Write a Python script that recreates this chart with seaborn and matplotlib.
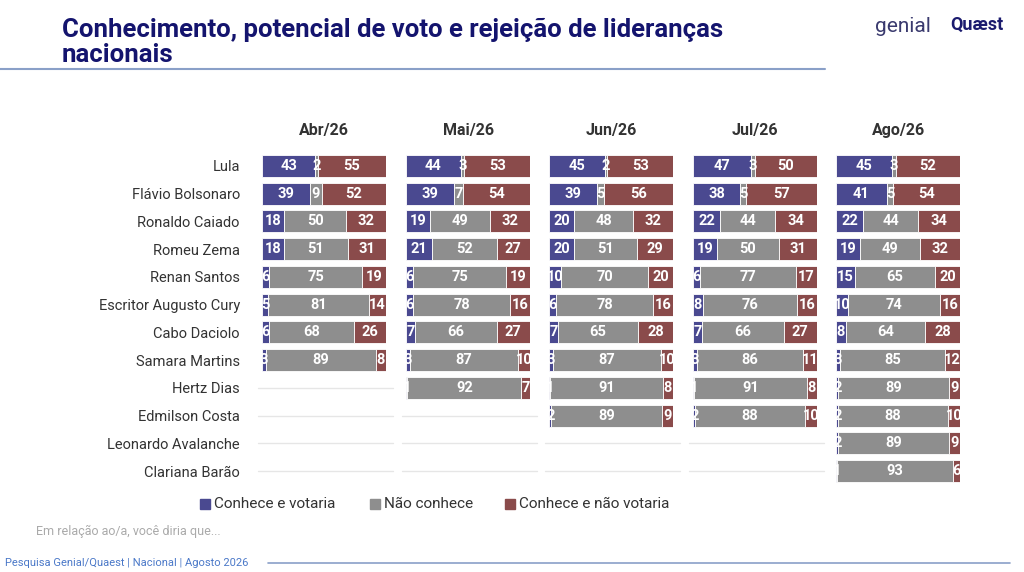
import matplotlib
matplotlib.use("Agg")
import matplotlib.pyplot as plt
import seaborn as sns
import numpy as np

names = ["Lula", "Flávio Bolsonaro", "Ronaldo Caiado", "Romeu Zema", "Renan Santos",
         "Escritor Augusto Cury", "Cabo Daciolo", "Samara Martins", "Hertz Dias",
         "Edmilson Costa", "Leonardo Avalanche", "Clariana Barão"]
months = ["Abr/26", "Mai/26", "Jun/26", "Jul/26", "Ago/26"]
N = None
votaria = {
    "Abr/26": [43, 39, 18, 18, 6, 5, 6, 3, N, N, N, N],
    "Mai/26": [44, 39, 19, 21, 6, 6, 7, 3, 1, N, N, N],
    "Jun/26": [45, 39, 20, 20, 10, 6, 7, 3, 1, 2, N, N],
    "Jul/26": [47, 38, 22, 19, 6, 8, 7, 3, 1, 2, N, N],
    "Ago/26": [45, 41, 22, 19, 15, 10, 8, 3, 2, 2, 2, 1],
}
nao_conhece = {
    "Abr/26": [2, 9, 50, 51, 75, 81, 68, 89, N, N, N, N],
    "Mai/26": [3, 7, 49, 52, 75, 78, 66, 87, 92, N, N, N],
    "Jun/26": [2, 5, 48, 51, 70, 78, 65, 87, 91, 89, N, N],
    "Jul/26": [3, 5, 44, 50, 77, 76, 66, 86, 91, 88, N, N],
    "Ago/26": [3, 5, 44, 49, 65, 74, 64, 85, 89, 88, 89, 93],
}
nao_votaria = {
    "Abr/26": [55, 52, 32, 31, 19, 14, 26, 8, N, N, N, N],
    "Mai/26": [53, 54, 32, 27, 19, 16, 27, 10, 7, N, N, N],
    "Jun/26": [53, 56, 32, 29, 20, 16, 28, 10, 8, 9, N, N],
    "Jul/26": [50, 57, 34, 31, 17, 16, 27, 11, 8, 10, N, N],
    "Ago/26": [52, 54, 34, 32, 20, 16, 28, 12, 9, 10, 9, 6],
}
series = ["Conhece e votaria", "Não conhece", "Conhece e não votaria"]
colors = ["#4a4990", "#8e8e8e", "#8a4b4b"]

sns.set_theme(style="white")
plt.rcParams['font.family'] = ['Roboto', 'DejaVu Sans']
fig = plt.figure(figsize=(10.24, 5.72), dpi=100)
W, H = 1024, 572
lefts = [262, 406, 549, 693, 836]
top, bot = 152, 485
y = np.arange(len(names))
for mi, m in enumerate(months):
    ax = fig.add_axes([lefts[mi] / W, 1 - bot / H, 124 / W, (bot - top) / H])
    data = [votaria[m], nao_conhece[m], nao_votaria[m]]
    for i in range(len(names)):
        if data[0][i] is None:
            ax.plot([-3, 106], [i, i], color="#e6e6e6", lw=1, zorder=0, clip_on=False)
            continue
        left = 0
        for s in range(3):
            v = data[s][i]
            ax.barh(i, v, left=left, height=0.8, color=colors[s], edgecolor="white", lw=0.6)
            ax.text(left + v / 2, i, str(v), ha="center", va="center", color="white",
                    fontsize=10.5, fontweight="bold", clip_on=True)
            left += v
    ax.set_xlim(0, 100)
    ax.set_ylim(len(names) - 0.5, -0.5)
    ax.set_xticks([])
    ax.set_yticks(y if mi == 0 else [])
    if mi == 0:
        ax.set_yticklabels(names, fontsize=10.5, color="#333333")
        ax.tick_params(axis="y", length=0, pad=16)
    for sp in ax.spines.values():
        sp.set_visible(False)
    ax.set_title(m, fontsize=11.5, fontweight="bold", color="#333333", pad=12)
    ax.patch.set_alpha(0)

fig.text(62 / W, 1 - 42 / H, "Conhecimento, potencial de voto e rejeição de lideranças\nnacionais",
         fontsize=18.5, fontweight="bold", color="#14146e", va="center", linespacing=1.05)
fig.add_artist(plt.Line2D([0, 825 / W], [1 - 69 / H, 1 - 69 / H], color="#8aa0c8", lw=1.5))
fig.text(875 / W, 1 - 27 / H, "genial", fontsize=15, color="#3a3a6e", va="center")
fig.text(950 / W, 1 - 25 / H, "Quæst", fontsize=13, fontweight="bold", color="#1a1a6e", va="center")

# legend
lx = [200, 370, 505]
for c, s, x in zip(colors, series, lx):
    fig.patches.append(plt.Rectangle((x / W, 1 - 509 / H), 10 / W, 10 / H, color=c,
                                     transform=fig.transFigure))
    fig.text((x + 14) / W, 1 - 504 / H, s, fontsize=11, color="#333333", va="center")
fig.text(36 / W, 1 - 531 / H, "Em relação ao/a, você diria que...", fontsize=9, color="#aaaaaa", va="center")
fig.text(5 / W, 1 - 563 / H, "Pesquisa Genial/Quaest | Nacional | Agosto 2026", fontsize=8,
         color="#4a78c8", va="center")
fig.add_artist(plt.Line2D([268 / W, 1010 / W], [1 - 563 / H] * 2, color="#8aa0c8", lw=1.2))
fig.savefig("out.png", dpi=100, facecolor="white")
